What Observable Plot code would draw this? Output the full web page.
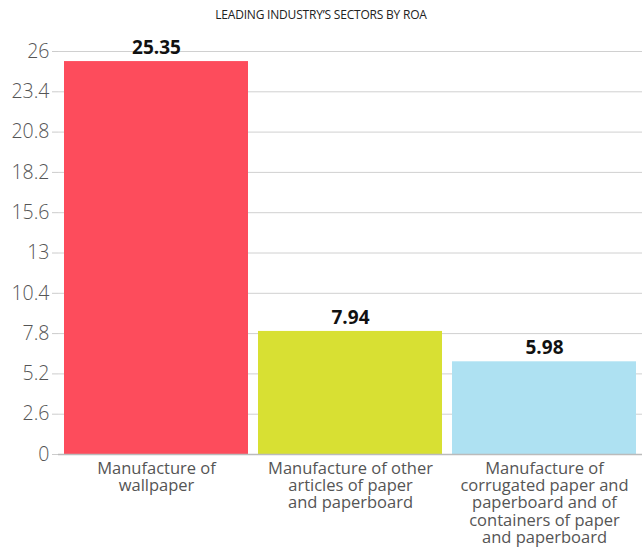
<!DOCTYPE html>
<html>
<head>
<meta charset="utf-8">
<script src="https://cdn.jsdelivr.net/npm/d3@7"></script>
<script src="https://cdn.jsdelivr.net/npm/@observablehq/plot@0.6"></script>
<style>
  body { margin: 0; background: #fff; font-family: "Open Sans", sans-serif; }
  #title { height: 28px; line-height: 30px; text-align: center; font-size: 12px; color: #222; font-family: "Open Sans", sans-serif; letter-spacing: -0.2px; }
</style>
</head>
<body>
<div id="title">LEADING INDUSTRY’S SECTORS BY ROA</div>
<div id="chart"></div>
<script>
const categories = [
  "Manufacture of\nwallpaper",
  "Manufacture of other\narticles of paper\nand paperboard",
  "Manufacture of\ncorrugated paper and\npaperboard and of\ncontainers of paper\nand paperboard"
];
const values = [25.35, 7.94, 5.98];
const colors = ["#FD4C5C", "#D8E033", "#AEE1F2"];
const yTicks = [0, 2.6, 5.2, 7.8, 10.4, 13, 15.6, 18.2, 20.8, 23.4, 26];

const data = categories.map((c, i) => ({category: c, value: values[i], color: colors[i]}));

const chart = Plot.plot({
  width: 642,
  height: 520,
  marginTop: 23,
  marginLeft: 58,
  marginRight: 0,
  marginBottom: 94,
  style: {fontFamily: "Open Sans, sans-serif", background: "#fff"},
  x: {domain: categories, paddingInner: 0.054, paddingOuter: 0.025, label: null},
  y: {domain: [0, 26], label: null},
  marks: [
    Plot.ruleY(yTicks, {stroke: "#d0d0d0", strokeWidth: 1}),
    Plot.barY(data, {x: "category", y: "value", fill: "color"}),
    Plot.ruleY([0], {stroke: "#bbb", strokeWidth: 1.5}),
    Plot.text(data, {x: "category", y: "value", text: d => d.value.toFixed(2), dy: -14, fontSize: 19, fontWeight: "bold", fill: "#111"}),
    Plot.axisY({ticks: yTicks, tickSize: 6, tickPadding: 3, stroke: "#ccc", fontSize: 19.5, fontWeight: 300, color: "#555", tickFormat: d => String(d), label: null}),
    Plot.axisX({tickSize: 0, tickPadding: 7, fontSize: 16.5, color: "#555", lineHeight: 1.05, label: null})
  ]
});
document.getElementById("chart").appendChild(chart);
</script>
</body>
</html>
